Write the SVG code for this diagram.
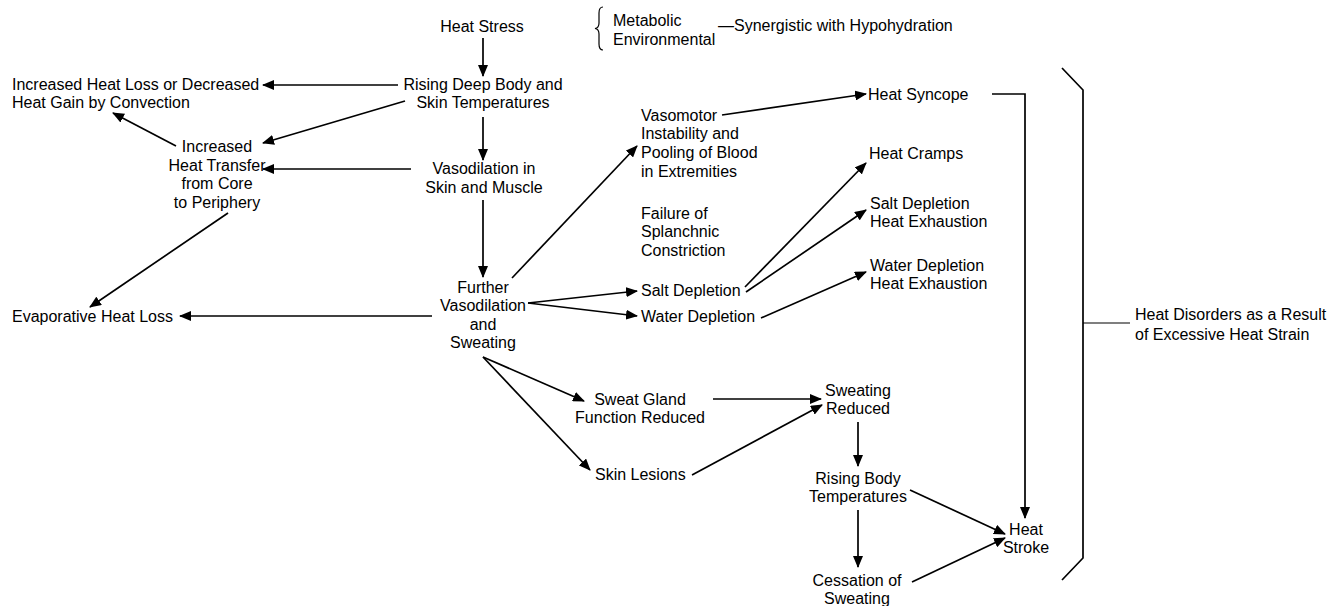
<svg xmlns="http://www.w3.org/2000/svg" width="1341" height="606" viewBox="0 0 1341 606">
<style>
text{font-family:"Liberation Sans",Arial,sans-serif;font-size:16px;fill:#000}
.c{text-anchor:middle}
.ln{stroke:#000;stroke-width:1.7;fill:none}
.thin{stroke:#000;stroke-width:1.2;fill:none}
</style>
<defs>
<marker id="ah" viewBox="0 0 12 10" refX="11" refY="5" markerWidth="12" markerHeight="10" markerUnits="userSpaceOnUse" orient="auto">
<path d="M0,0 L12,5 L0,10 Z" fill="#000"/>
</marker>
</defs>
<rect width="1341" height="606" fill="#fff"/>
<g id="heat-stress"><text class="c" x="482" y="32">Heat Stress</text></g>
<g id="factors">
<path class="thin" d="M603,7 Q599,7 599,13 L599,23 Q599,28 595,28.5 Q599,29 599,34 L599,44 Q599,50 603,50"/>
<text x="613" y="26">Metabolic</text>
<text x="613" y="45">Environmental</text>
<text x="718" y="31">—Synergistic with Hypohydration</text>
</g>
<g id="rising-deep"><text class="c" x="483" y="90">Rising Deep Body and</text><text class="c" x="483" y="108">Skin Temperatures</text></g>
<g id="convection"><text x="12" y="90">Increased Heat Loss or Decreased</text><text x="12" y="108">Heat Gain by Convection</text></g>
<g id="heat-transfer"><text class="c" x="217" y="152">Increased</text><text class="c" x="217" y="171">Heat Transfer</text><text class="c" x="217" y="189">from Core</text><text class="c" x="217" y="208">to Periphery</text></g>
<g id="vasodilation"><text class="c" x="484" y="174">Vasodilation in</text><text class="c" x="484" y="193">Skin and Muscle</text></g>
<g id="evaporative"><text x="12" y="322">Evaporative Heat Loss</text></g>
<g id="further"><text class="c" x="483" y="293">Further</text><text class="c" x="483" y="311">Vasodilation</text><text class="c" x="483" y="330">and</text><text class="c" x="483" y="348">Sweating</text></g>
<g id="vasomotor"><text x="641" y="121">Vasomotor</text><text x="641" y="139">Instability and</text><text x="641" y="158">Pooling of Blood</text><text x="641" y="177">in Extremities</text></g>
<g id="splanchnic"><text x="641" y="219">Failure of</text><text x="641" y="237">Splanchnic</text><text x="641" y="256">Constriction</text></g>
<g id="salt"><text x="641" y="296">Salt Depletion</text></g>
<g id="water"><text x="641" y="322">Water Depletion</text></g>
<g id="syncope"><text x="868" y="100">Heat Syncope</text></g>
<g id="cramps"><text x="869" y="159">Heat Cramps</text></g>
<g id="salt-he"><text x="870" y="209">Salt Depletion</text><text x="870" y="227">Heat Exhaustion</text></g>
<g id="water-he"><text x="870" y="271">Water Depletion</text><text x="870" y="289">Heat Exhaustion</text></g>
<g id="sweat-gland"><text class="c" x="640" y="405">Sweat Gland</text><text class="c" x="640" y="423">Function Reduced</text></g>
<g id="skin-lesions"><text x="595" y="480">Skin Lesions</text></g>
<g id="sweating-reduced"><text class="c" x="858" y="396">Sweating</text><text class="c" x="858" y="414">Reduced</text></g>
<g id="rising-body"><text class="c" x="858" y="484">Rising Body</text><text class="c" x="858" y="502">Temperatures</text></g>
<g id="cessation"><text class="c" x="857" y="586">Cessation of</text><text class="c" x="857" y="604">Sweating</text></g>
<g id="heat-stroke"><text class="c" x="1026" y="535">Heat</text><text class="c" x="1026" y="553">Stroke</text></g>
<g id="disorders">
<path class="ln" d="M1062,68 L1083,90 L1083,558 L1062,580"/>
<path class="thin" d="M1083,323 L1130,323"/>
<text x="1135" y="320">Heat Disorders as a Result</text><text x="1135" y="340">of Excessive Heat Strain</text>
</g>
<g id="connectors">
<path class="ln" marker-end="url(#ah)" d="M483,38 L483,76"/>
<path class="ln" marker-end="url(#ah)" d="M398,85 L263,85"/>
<path class="ln" marker-end="url(#ah)" d="M405,101 L263,143"/>
<path class="ln" marker-end="url(#ah)" d="M176,146 L113,113"/>
<path class="ln" marker-end="url(#ah)" d="M483,117 L483,160"/>
<path class="ln" marker-end="url(#ah)" d="M411,169 L263,169"/>
<path class="ln" marker-end="url(#ah)" d="M483,200 L483,277"/>
<path class="ln" marker-end="url(#ah)" d="M228,213 L90,307"/>
<path class="ln" marker-end="url(#ah)" d="M432,316 L180,316"/>
<path class="ln" marker-end="url(#ah)" d="M512,278 L637,146"/>
<path class="ln" marker-end="url(#ah)" d="M722,115 L866,94"/>
<path class="ln" marker-end="url(#ah)" d="M528,303 L637,291"/>
<path class="ln" marker-end="url(#ah)" d="M528,303 L637,316"/>
<path class="ln" marker-end="url(#ah)" d="M745,287 L866,163"/>
<path class="ln" marker-end="url(#ah)" d="M746,292 L866,210"/>
<path class="ln" marker-end="url(#ah)" d="M761,318 L866,272"/>
<path class="ln" marker-end="url(#ah)" d="M992,94 L1025,94 L1025,518"/>
<path class="ln" marker-end="url(#ah)" d="M483,357 L584,401"/>
<path class="ln" marker-end="url(#ah)" d="M483,357 L590,470"/>
<path class="ln" marker-end="url(#ah)" d="M713,399 L821,399"/>
<path class="ln" marker-end="url(#ah)" d="M692,475 L822,405"/>
<path class="ln" marker-end="url(#ah)" d="M858,422 L858,466"/>
<path class="ln" marker-end="url(#ah)" d="M858,510 L858,567"/>
<path class="ln" marker-end="url(#ah)" d="M910,490 L1005,534"/>
<path class="ln" marker-end="url(#ah)" d="M912,582 L1005,538"/>
</g>
</svg>
